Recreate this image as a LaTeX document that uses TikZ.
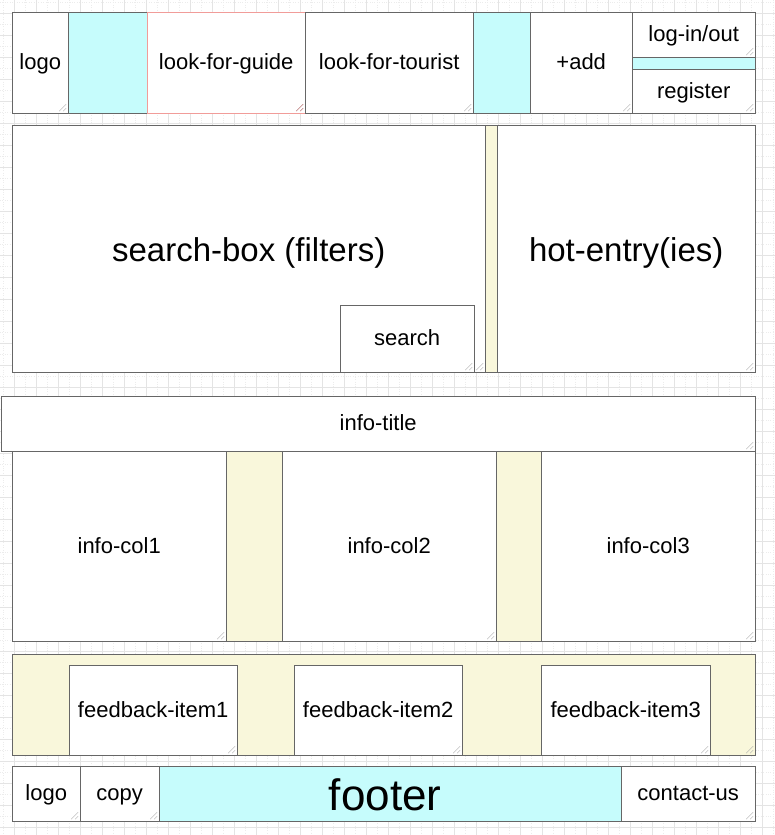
\documentclass[tikz,border=0pt]{standalone}
\usepackage{fontspec}
\setmainfont{Liberation Sans}
\usetikzlibrary{positioning}

\definecolor{linegray}{RGB}{102,102,102}
\definecolor{gapcyan}{RGB}{198,252,252}
\definecolor{gapcream}{RGB}{249,247,219}
\definecolor{guidered}{RGB}{241,156,153}
\definecolor{gridmajor}{RGB}{228,228,228}
\definecolor{gridminor}{RGB}{236,236,236}
\definecolor{gripgray}{RGB}{170,170,170}
\definecolor{gripred}{RGB}{160,70,70}

\tikzset{
  grip/.style={path picture={
    \draw[gripgray] ([xshift=-9pt,yshift=2pt]path picture bounding box.south east)
        -- ([xshift=-2pt,yshift=9pt]path picture bounding box.south east)
      ([xshift=-5pt,yshift=2pt]path picture bounding box.south east)
        -- ([xshift=-2pt,yshift=5pt]path picture bounding box.south east);}},
  redgrip/.style={path picture={
    \draw[gripred] ([xshift=-9pt,yshift=2pt]path picture bounding box.south east)
        -- ([xshift=-2pt,yshift=9pt]path picture bounding box.south east)
      ([xshift=-5pt,yshift=2pt]path picture bounding box.south east)
        -- ([xshift=-2pt,yshift=5pt]path picture bounding box.south east);}},
  sz/.style 2 args={minimum width=#1pt, minimum height=#2pt},
  wbox/.style={draw=linegray, fill=white, anchor=north west, inner sep=0pt,
    font=\fontsize{22}{26}\selectfont, text height=17.6pt, text depth=3.4pt},
  cbox/.style={wbox, fill=gapcyan},
  ybox/.style={wbox, fill=gapcream},
  bigtext/.style={font=\fontsize{33}{38}\selectfont, text height=29.8pt, text depth=5.1pt}
}

\begin{document}
\begin{tikzpicture}[x=1pt, y=-1pt]
    \useasboundingbox (0,0) rectangle (775,835);
    \fill[white] (0,0) rectangle (775,835);

    % Draw Grid
    \foreach \x in {3,25,...,775}
        \draw[gridminor, dotted] (\x,0) -- (\x,835);
    \foreach \y in {2,24,...,835}
        \draw[gridminor, dotted] (0,\y) -- (775,\y);
    \foreach \x in {14,36,...,775}
        \draw[gridmajor] (\x,0) -- (\x,835);
    \foreach \y in {13,35,...,835}
        \draw[gridmajor] (0,\y) -- (775,\y);

    % Header bar
    \node[wbox, sz={56}{101}, grip] (logo) at (12,12) {logo};
    \node[cbox, sz={79}{101}] (gapa) at (68,12) {};
    \node[wbox, sz={158}{101}, draw=guidered, redgrip] (guide) at (147,12) {look-for-guide};
    \node[wbox, sz={168}{101}, grip] (tourist) at (305,12) {look-for-tourist};
    \node[cbox, sz={57}{101}] (gapb) at (473,12) {};
    \node[wbox, sz={102}{101}, grip] (add) at (530,12) {+add};
    \node[wbox, sz={123}{45}, grip] (login) at (632,12) {log-in/out};
    \node[cbox, sz={123}{12}] (band) at (632,57) {};
    \node[wbox, sz={123}{44}, grip] (register) at (632,69) {register};

    % Search and hot entries
    \node[wbox, sz={473}{247}, grip, bigtext] (searchbox) at (12,125) {search-box (filters)};
    \node[ybox, sz={12}{247}] (stripa) at (485,125) {};
    \node[wbox, sz={258}{247}, grip, bigtext] (hot) at (497,125) {hot-entry(ies)};
    \node[wbox, sz={134}{67}, grip] (search) at (340,305) {search};

    % Info block
    \node[wbox, sz={754}{55}, grip] (infotitle) at (1,396) {info-title};
    \node[wbox, sz={214}{190}, grip] (col1) at (12,451) {info-col1};
    \node[ybox, sz={56}{190}] (stripb) at (226,451) {};
    \node[wbox, sz={214}{190}, grip] (col2) at (282,451) {info-col2};
    \node[ybox, sz={45}{190}] (stripc) at (496,451) {};
    \node[wbox, sz={214}{190}, grip] (col3) at (541,451) {info-col3};

    % Feedback
    \node[ybox, sz={743}{101}, grip] (feedback) at (12,654) {};
    \node[wbox, sz={168}{90}, grip] (item1) at (69,665) {feedback-item1};
    \node[wbox, sz={168}{90}, grip] (item2) at (294,665) {feedback-item2};
    \node[wbox, sz={169}{90}, grip] (item3) at (541,665) {feedback-item3};

    % Footer
    \node[wbox, sz={68}{55}, grip] (flogo) at (12,766) {logo};
    \node[wbox, sz={79}{55}, grip] (copy) at (80,766) {copy};
    \node[cbox, sz={462}{55}, font=\fontsize{44}{50}\selectfont,
          text height=33pt, text depth=0pt] (footer) at (159,766) {footer\hspace*{10pt}};
    \node[wbox, sz={134}{55}, grip] (contact) at (621,766) {contact-us};

\end{tikzpicture}
\end{document}
